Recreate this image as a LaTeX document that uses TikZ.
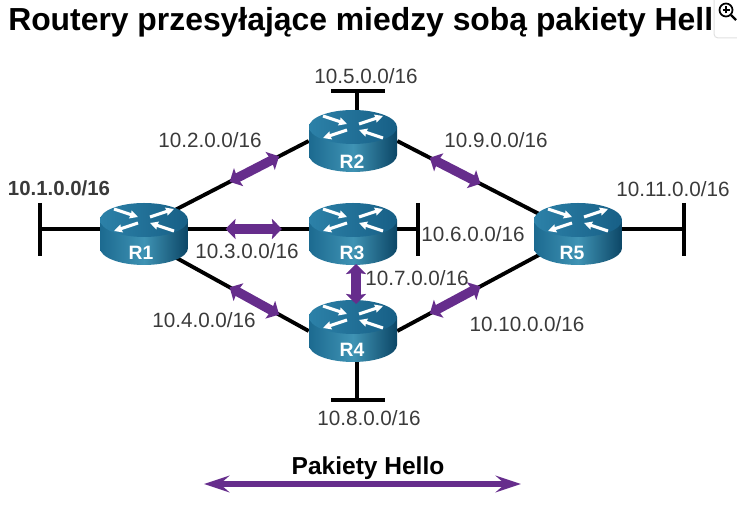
\documentclass[tikz,border=0pt]{standalone}
\usepackage{fontspec}
\setmainfont{Liberation Sans}
\usetikzlibrary{arrows.meta,backgrounds}
\definecolor{hellopurple}{HTML}{662D8C}
\definecolor{labelgray}{HTML}{3A3A3A}
\definecolor{routerdark}{HTML}{0C4666}
\definecolor{routermid}{HTML}{3F93B4}
\definecolor{routerside}{HTML}{1C6A90}
\definecolor{routertop}{HTML}{2C81A8}
\definecolor{routerfront}{HTML}{175F86}
\tikzset{
	router/.style={minimum width=66pt,minimum height=46.5pt,inner sep=0pt,path picture={
		\begin{scope}[shift={(path picture bounding box.center)}]
		\shade[left color=routerside,right color=routerdark,middle color=routermid] (-44,14)--(-44,-14) arc[start angle=180,end angle=360,x radius=44,y radius=17]--(44,14)--cycle;
		\shade[left color=routertop,right color=routerfront] (0,14) ellipse [x radius=44,y radius=17];
		\draw[flowtip] (-30,25)--(-6,17);
		\draw[flowtip] (30,3)--(6,11);
		\draw[flowtip] (6,17)--(30,25);
		\draw[flowtip] (-6,11)--(-30,3);
		\end{scope}}},
	flowtip/.style={white,line width=2.3pt,-{Stealth[length=6pt,width=6pt,inset=0.5pt]}},
	routername/.style={white,font=\bfseries\fontsize{14.5}{14.5}\selectfont},
	link/.style={line width=2.9pt},
	hello/.style={hellopurple,line width=7pt,{Stealth[length=7.5pt,width=15pt,inset=1pt]}-{Stealth[length=7.5pt,width=15pt,inset=1pt]}},
	hellokey/.style={hellopurple,line width=4pt,{Stealth[length=19pt,width=12.5pt,inset=7pt]}-{Stealth[length=19pt,width=12.5pt,inset=7pt]}},
	netlabel/.style={labelgray,font=\fontsize{15.5}{17}\selectfont,inner sep=0pt}
}
\begin{document}
\begin{tikzpicture}[x=0.75pt,y=0.75pt]
		\useasboundingbox (0,0) rectangle (737,520);
		\node[anchor=base west,inner sep=0pt,font=\bfseries\fontsize{23.9}{26}\selectfont] (title) at (8,489) {Routery przesyłające miedzy sobą pakiety Hell};
		% zoom icon
		\draw[black!12,line width=0.75pt,rounded corners=3pt] (714,520)--(714,482)--(737,482);
		\draw[line width=1.3pt] (726,510) circle (6.5);
		\draw[line width=1.1pt] (722.5,510)--(729.5,510) (726,506.5)--(726,513.5);
		\draw[line width=1.8pt] (731,505)--(736,500);
		% routers
		\node[router] (R1) at (144,286) {};
		\node[router] (R2) at (353,379) {};
		\node[router] (R3) at (353,286) {};
		\node[router] (R4) at (353,189) {};
		\node[router] (R5) at (578,286) {};
		\node[routername] (nameR1) at (141,267) {R1};
		\node[routername] (nameR2) at (352,358) {R2};
		\node[routername] (nameR3) at (352,267) {R3};
		\node[routername] (nameR4) at (352,170) {R4};
		\node[routername] (nameR5) at (572,267) {R5};
		% networks
		\coordinate (net1) at (40,291);
		\coordinate (net1a) at (40,317);
		\coordinate (net1b) at (40,264);
		\coordinate (net5) at (357,429);
		\coordinate (net5a) at (331,429);
		\coordinate (net5b) at (385,429);
		\coordinate (net6) at (418,291);
		\coordinate (net6a) at (418,317);
		\coordinate (net6b) at (418,264);
		\coordinate (net8) at (357,120);
		\coordinate (net8a) at (331,120);
		\coordinate (net8b) at (385,120);
		\coordinate (net11) at (684,291);
		\coordinate (net11a) at (684,317);
		\coordinate (net11b) at (684,264);
		% links behind the routers
		\begin{scope}[on background layer]
		\draw[link] ([yshift=6pt]R1.center)-- coordinate[pos=.52] (a12) coordinate[pos=.82] (b12) (R2.west);
		\draw[link] ([yshift=3.75pt]R1.center)-- coordinate[pos=.39] (a13) coordinate[pos=.66] (b13) ([yshift=3.75pt]R3.center);
		\draw[link] ([yshift=-4.5pt]R1.center)-- coordinate[pos=.52] (a14) coordinate[pos=.82] (b14) (R4.west);
		\draw[link] (R2.east)-- coordinate[pos=.18] (a25) coordinate[pos=.46] (b25) (R5.center);
		\draw[link] (R4.east)-- coordinate[pos=.18] (a45) coordinate[pos=.46] (b45) (R5.center);
		\draw[link] (R1.center |- net1)--(net1);
		\draw[link] (R3.center |- net6)--(net6);
		\draw[link] (R5.center |- net11)--(net11);
		\draw[link] (net5 |- R2.center)--(net5);
		\draw[link] (net8 |- R4.center)--(net8);
		\end{scope}
		\draw[link] (net1a)--(net1b);
		\draw[link] (net5a)--(net5b);
		\draw[link] (net6a)--(net6b);
		\draw[link] (net8a)--(net8b);
		\draw[link] (net11a)--(net11b);
		% hello packets
		\coordinate (a34) at (356,256);
		\coordinate (b34) at (356,216);
		\draw[hello] (a12)--(b12);
		\draw[hello] (a13)--(b13);
		\draw[hello] (a14)--(b14);
		\draw[hello] (a25)--(b25);
		\draw[hello] (a45)--(b45);
		\draw[hello] (a34)--(b34);
		% network labels
		\node[netlabel,font=\bfseries\fontsize{15.3}{17}\selectfont] (lab1) at (59,332) {10.1.0.0/16};
		\node[netlabel] (lab2) at (210,380) {10.2.0.0/16};
		\node[netlabel] (lab3) at (247,269) {10.3.0.0/16};
		\node[netlabel] (lab4) at (204,200) {10.4.0.0/16};
		\node[netlabel] (lab5) at (366,444) {10.5.0.0/16};
		\node[netlabel] (lab6) at (473,286) {10.6.0.0/16};
		\node[netlabel] (lab7) at (417,242) {10.7.0.0/16};
		\node[netlabel] (lab8) at (369,102) {10.8.0.0/16};
		\node[netlabel] (lab9) at (496,380) {10.9.0.0/16};
		\node[netlabel] (lab10) at (527,196) {10.10.0.0/16};
		\node[netlabel] (lab11) at (673,331) {10.11.0.0/16};
		% legend
		\coordinate (keya) at (204,36);
		\coordinate (keyb) at (521,36);
		\draw[hellokey] (keya)--(keyb);
		\node[font=\bfseries\fontsize{18.4}{20}\selectfont,inner sep=0pt] (key) at (368,52) {Pakiety Hello};
\end{tikzpicture}
\end{document}
